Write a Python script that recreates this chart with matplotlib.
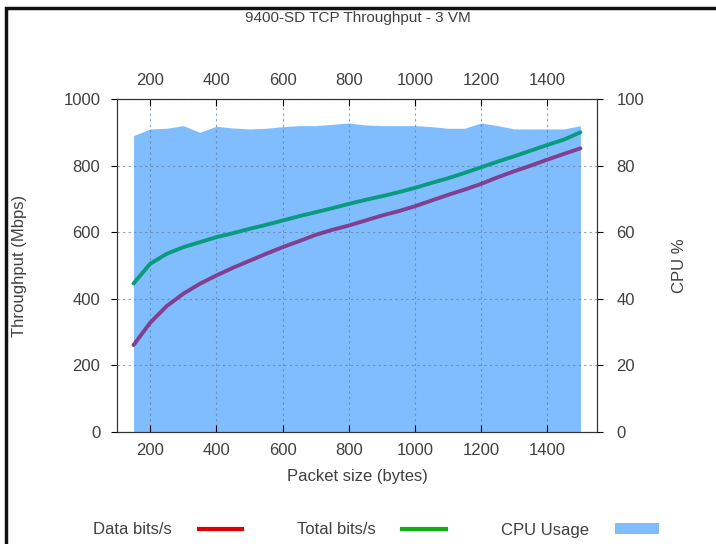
import matplotlib
matplotlib.use("Agg")
import matplotlib.pyplot as plt
from matplotlib.lines import Line2D
from matplotlib.patches import Patch, Rectangle

plt.rcParams['font.family'] = ['Liberation Sans', 'DejaVu Sans']

# packet sizes (bytes)
packet_size = [150, 200, 250, 300, 350, 400, 450, 500, 550, 600, 650, 700, 750, 800,
               850, 900, 950, 1000, 1050, 1100, 1150, 1200, 1250, 1300, 1350, 1400,
               1450, 1500]
# throughput in Mbps
data_bits = [261, 328, 378, 415, 445, 470, 493, 514, 535, 555, 573, 592, 607, 620,
             635, 650, 663, 678, 695, 712, 728, 745, 765, 783, 800, 818, 835, 852]
total_bits = [446, 505, 535, 555, 570, 585, 597, 610, 622, 635, 648, 660, 672, 685,
              697, 708, 720, 733, 748, 762, 778, 795, 812, 828, 845, 862, 878, 900]
# CPU usage %
cpu_usage = [89, 91, 91.2, 92, 90, 91.8, 91.3, 91, 91.2, 91.7, 92, 92, 92.4, 92.8,
             92.2, 92, 92, 92, 91.7, 91.2, 91.2, 92.8, 92, 91, 91, 91, 91, 92]

x_ticks = [200, 400, 600, 800, 1000, 1200, 1400]
text_col = '#404040'

fig = plt.figure(figsize=(7.16, 5.44), dpi=100)
ax = fig.add_axes([117 / 716, 1 - 432 / 544, 480 / 716, 333 / 544])
ax2 = ax.twinx()

# CPU area sits behind the throughput lines
ax2.fill_between(packet_size, cpu_usage, 0, color='#80bdff', linewidth=0)
ax2.set_ylim(0, 100)
ax2.set_yticks([0, 20, 40, 60, 80, 100])
ax2.set_ylabel('CPU %', fontsize=12, color=text_col, labelpad=20)

ax.set_zorder(ax2.get_zorder() + 1)
ax.patch.set_visible(False)

ax.plot(packet_size, data_bits, color='#823f90', linewidth=2.8, solid_capstyle='round')
ax.plot(packet_size, total_bits, color='#0a9a7e', linewidth=2.8, solid_capstyle='round')

ax.set_xlim(100, 1550)
ax.set_ylim(0, 1000)
ax.set_xticks(x_ticks)
ax.set_yticks([0, 200, 400, 600, 800, 1000])
ax.grid(True, linestyle=(0, (2, 3)), color='#60809f', linewidth=0.8, alpha=0.75)

ax.tick_params(axis='x', direction='in', top=True, labeltop=True, labelsize=12,
               labelcolor=text_col, length=5, pad=8)
ax.tick_params(axis='y', direction='out', labelsize=12, labelcolor=text_col, length=4, pad=8)
ax2.tick_params(axis='y', direction='out', labelsize=12, labelcolor=text_col, length=4, pad=10)

for a in (ax, ax2):
    for s in a.spines.values():
        s.set_color('#333333')

ax.set_xlabel('Packet size (bytes)', fontsize=12, color=text_col, labelpad=8)
ax.set_ylabel('Throughput (Mbps)', fontsize=12, color=text_col, labelpad=26)

fig.text(0.5, 1 - 18 / 544, '9400-SD TCP Throughput - 3 VM', ha='center', va='center',
         fontsize=11, color=text_col)

handles = [Line2D([], [], color='#e00000', linewidth=3),
           Line2D([], [], color='#10b010', linewidth=3),
           Patch(facecolor='#80bdff')]
labels = ['Data bits/s', 'Total bits/s', 'CPU Usage']
fig.legend(handles, labels, loc='center', bbox_to_anchor=(0.525, 1 - 530 / 544), ncol=3,
           frameon=False, markerfirst=False, fontsize=12, handlelength=2.6,
           handletextpad=1.6, columnspacing=3.3, labelcolor=text_col, handleheight=0.6)

# outer frame lines
fig.add_artist(Rectangle((6 / 716, -0.1), 1.2, 1 - 8 / 544 + 0.1, transform=fig.transFigure,
                         fill=False, edgecolor='#111111', linewidth=2.5))

fig.savefig('out.png', dpi=100)
